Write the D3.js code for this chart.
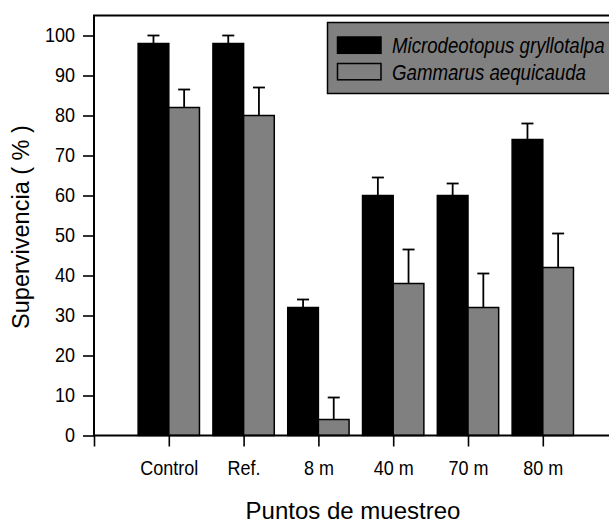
<!DOCTYPE html>
<html>
<head>
<meta charset="utf-8">
<script src="https://cdn.jsdelivr.net/npm/d3@7/dist/d3.min.js"></script>
<style>
  body { margin: 0; background: #fff; }
  svg { display: block; }
  text { font-family: "Liberation Sans", Arial, sans-serif; fill: #000; }
</style>
</head>
<body>
<svg id="chart" width="609" height="525"></svg>
<script>
// Sampling points and survival (%) with the upper error of each mean
const categories = ["Control", "Ref.", "8 m", "40 m", "70 m", "80 m"];
const microdeotopus = [98, 98, 32, 60, 60, 74];
const microdeotopusErr = [2, 2, 2, 4.5, 3, 4];
const gammarus = [82, 80, 4, 38, 32, 42];
const gammarusErr = [4.5, 7, 5.5, 8.5, 8.5, 8.5];
const yTicks = [0, 10, 20, 30, 40, 50, 60, 70, 80, 90, 100];
const seriesNames = ["Microdeotopus gryllotalpa", "Gammarus aequicauda"];
const seriesColors = ["#000000", "#808080"];

const svg = d3.select("#chart");

// categories sit at 1..6 on a 0..7 axis; the frame runs past the right edge
const x = d3.scaleLinear().domain([0, 7]).range([94, 617.6]);
const y = d3.scaleLinear().domain([0, 100]).range([435.5, 35.5]);
const barW = 0.41; // width of one bar, in category units
const frameTop = 15.5;

// narrow text helper: scale glyphs horizontally around the anchor point
function squeeze(sel, k) {
  sel.each(function () {
    const t = d3.select(this);
    const tx = +t.attr("x") || 0;
    t.attr("x", tx / k).attr("transform", `scale(${k},1)`);
  });
}

// bars
const series = [
  { name: seriesNames[0], values: microdeotopus, err: microdeotopusErr, color: seriesColors[0], side: -1 },
  { name: seriesNames[1], values: gammarus, err: gammarusErr, color: seriesColors[1], side: 1 }
];

const bw = x(barW) - x(0);
series.forEach(s => {
  const g = svg.append("g");
  const rows = categories.map((c, i) => ({ i: i + 1, v: s.values[i], e: s.err[i] }));
  const left = d => s.side < 0 ? x(d.i) - bw : x(d.i);
  // error bars (upper only)
  g.selectAll("line.err").data(rows).join("line")
    .attr("x1", d => left(d) + bw / 2).attr("x2", d => left(d) + bw / 2)
    .attr("y1", d => y(d.v)).attr("y2", d => y(d.v + d.e))
    .attr("stroke", "#000").attr("stroke-width", 1.8);
  g.selectAll("line.cap").data(rows).join("line")
    .attr("x1", d => left(d) + bw / 2 - 6).attr("x2", d => left(d) + bw / 2 + 6)
    .attr("y1", d => y(d.v + d.e)).attr("y2", d => y(d.v + d.e))
    .attr("stroke", "#000").attr("stroke-width", 1.8);
  g.selectAll("rect").data(rows).join("rect")
    .attr("x", left).attr("width", bw)
    .attr("y", d => y(d.v)).attr("height", d => y(0) - y(d.v))
    .attr("fill", s.color).attr("stroke", "#000").attr("stroke-width", 1.5);
});

// y axis
const yAxis = svg.append("g").attr("transform", `translate(${x(0)},0)`)
  .call(d3.axisLeft(y).tickValues(yTicks).tickSize(11).tickPadding(8).tickSizeOuter(0));
yAxis.select(".domain").remove();
yAxis.selectAll(".tick line").attr("stroke-width", 1.6);
yAxis.selectAll(".tick text").attr("font-size", 20).attr("font-family", null);
squeeze(yAxis.selectAll(".tick text"), 0.9);

// x axis
const xAxis = svg.append("g").attr("transform", `translate(0,${y(0)})`)
  .call(d3.axisBottom(x).tickValues([0, 1, 2, 3, 4, 5, 6])
    .tickFormat(i => i ? categories[i - 1] : "")
    .tickSize(11).tickPadding(14).tickSizeOuter(0));
xAxis.select(".domain").remove();
xAxis.selectAll(".tick line").attr("stroke-width", 1.6);
xAxis.selectAll(".tick text").attr("font-size", 20).attr("font-family", null);
squeeze(xAxis.selectAll(".tick text"), 0.9);

// plot frame
svg.append("rect")
  .attr("x", x(0)).attr("y", frameTop)
  .attr("width", x(7) - x(0)).attr("height", y(0) - frameTop)
  .attr("fill", "none").attr("stroke", "#000").attr("stroke-width", 2);

// legend
const lg = svg.append("g");
lg.append("rect").attr("x", 327.5).attr("y", 22.5).attr("width", 320).attr("height", 71)
  .attr("fill", "#808080").attr("stroke", "#000").attr("stroke-width", 1.5);
series.forEach((s, k) => {
  const top = 37 + k * 26.5;
  lg.append("rect").attr("x", 337.5).attr("y", top).attr("width", 43.5).attr("height", 16.3)
    .attr("fill", s.color).attr("stroke", "#000").attr("stroke-width", 1.5);
  const t = lg.append("text").attr("x", 392).attr("y", top + 16.3)
    .attr("font-size", 22.5).attr("font-style", "italic").text(s.name);
  squeeze(t, 0.83);
});

// axis titles
svg.append("text").attr("x", 353).attr("y", 519)
  .attr("text-anchor", "middle").attr("font-size", 24).text("Puntos de muestreo");
svg.append("text")
  .attr("transform", `translate(29,227) rotate(-90)`)
  .attr("text-anchor", "middle").attr("font-size", 23.5).text("Supervivencia ( % )");
</script>
</body>
</html>
